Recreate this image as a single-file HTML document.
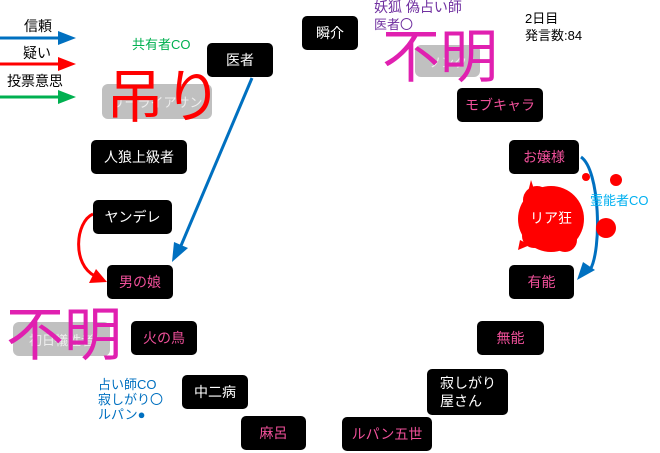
<!DOCTYPE html>
<html><head><meta charset="utf-8"><style>
body{margin:0;width:660px;height:453px;background:#fff;position:relative;overflow:hidden;font-family:"Liberation Sans","Noto Sans CJK JP",sans-serif}
.b{position:absolute;background:#000;border-radius:5px;color:#fff;font-size:14px;display:flex;align-items:center;justify-content:center;line-height:18px}
.p{color:#f0509a}
.g{position:absolute;background:#c0c0c0;border-radius:6px;color:#eee;font-size:13px;display:flex;align-items:center;justify-content:center}
.t{position:absolute;white-space:nowrap;font-size:13px;line-height:15px}
.big{position:absolute;white-space:nowrap;font-size:58px;line-height:60px}
svg{position:absolute;left:0;top:0}
</style></head><body>
<div class="g" style="left:102px;top:84px;width:110px;height:35px">リーライアサン</div>
<div class="g" style="left:13px;top:322px;width:97px;height:34px">初日犠牲者</div>
<div class="g" style="left:415px;top:45px;width:65px;height:32px">ソンク</div>
<svg width="660" height="453">
<path d="M0,38H60" stroke="#0070c0" stroke-width="3"/><path d="M58,31L76,38L58,45z" fill="#0070c0"/>
<path d="M0,64H60" stroke="#f00" stroke-width="3"/><path d="M58,57L76,64L58,71z" fill="#f00"/>
<path d="M0,97H60" stroke="#00b050" stroke-width="3"/><path d="M58,90L76,97L58,104z" fill="#00b050"/>
<path d="M252,78L180,248" stroke="#0070c0" stroke-width="3"/><path d="M172,262L174,242L188,248z" fill="#0070c0"/>
<path d="M93,214C75,222 72,265 95,276" stroke="#f00" stroke-width="3" fill="none"/><path d="M107,282L89,283L96,269z" fill="#f00"/>
<path d="M581,157C600,170 602,250 590,270" stroke="#0070c0" stroke-width="3" fill="none"/><path d="M577,280L583,262L595,270z" fill="#0070c0"/>
<g fill="#f00">
<circle cx="551" cy="219" r="33"/><circle cx="537" cy="200" r="14"/><circle cx="565" cy="240" r="12"/><circle cx="534" cy="236" r="12"/>
<circle cx="606" cy="228" r="10"/><circle cx="586" cy="177" r="4"/><circle cx="616" cy="180" r="6"/>
<path d="M531,180L536,195L528,192z"/><path d="M520,240L530,245L518,250z"/>
</g>
</svg>
<div class="b" style="left:302px;top:16px;width:56px;height:34px">瞬介</div>
<div class="b" style="left:207px;top:43px;width:66px;height:34px">医者</div>
<div class="b" style="left:91px;top:140px;width:96px;height:34px">人狼上級者</div>
<div class="b" style="left:93px;top:200px;width:79px;height:34px">ヤンデレ</div>
<div class="b p" style="left:107px;top:265px;width:66px;height:34px">男の娘</div>
<div class="b p" style="left:131px;top:321px;width:66px;height:34px">火の鳥</div>
<div class="b" style="left:182px;top:375px;width:66px;height:34px">中二病</div>
<div class="b p" style="left:241px;top:416px;width:65px;height:34px">麻呂</div>
<div class="b p" style="left:342px;top:417px;width:90px;height:34px">ルパン五世</div>
<div class="b" style="left:427px;top:369px;width:81px;height:46px;justify-content:flex-start;padding-left:13px;box-sizing:border-box">寂しがり<br>屋さん</div>
<div class="b p" style="left:477px;top:321px;width:67px;height:34px">無能</div>
<div class="b p" style="left:509px;top:265px;width:65px;height:34px">有能</div>
<div class="b p" style="left:509px;top:140px;width:70px;height:34px">お嬢様</div>
<div class="b p" style="left:457px;top:88px;width:86px;height:34px">モブキャラ</div>
<div class="t" style="left:530px;top:211px;color:#fff;font-size:14px">リア狂</div>
<div class="big" style="left:106px;top:68px;color:#f00">吊り</div>
<div class="big" style="left:6px;top:306px;color:#e020b0">不明</div>
<div class="big" style="left:382px;top:28px;color:#e020b0">不明</div>
<div class="t" style="left:24px;top:19px;font-size:14px">信頼</div>
<div class="t" style="left:23px;top:46px;font-size:14px">疑い</div>
<div class="t" style="left:7px;top:74px;font-size:14px">投票意思</div>
<div class="t" style="left:132px;top:37px;color:#00b050">共有者CO</div>
<div class="t" style="left:374px;top:0px;color:#7030a0;font-size:14px">妖狐 偽占い師</div>
<div class="t" style="left:374px;top:17px;color:#7030a0">医者〇</div>
<div class="t" style="left:525px;top:11px">2日目</div>
<div class="t" style="left:525px;top:28px">発言数:84</div>
<div class="t" style="left:590px;top:193px;color:#00b0f0">霊能者CO</div>
<div class="t" style="left:98px;top:377px;color:#0070c0">占い師CO</div>
<div class="t" style="left:98px;top:392px;color:#0070c0">寂しがり〇</div>
<div class="t" style="left:98px;top:407px;color:#0070c0">ルパン●</div>
</body></html>
